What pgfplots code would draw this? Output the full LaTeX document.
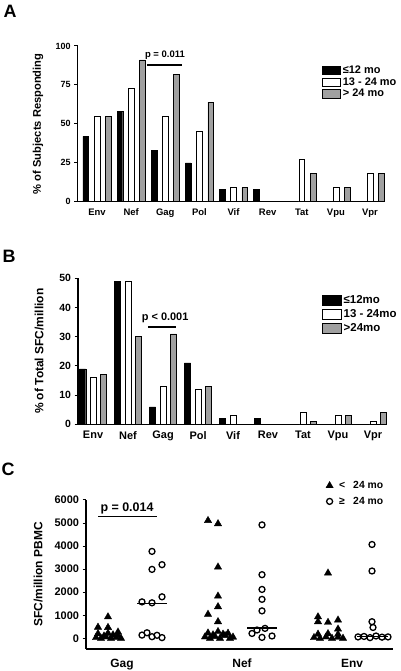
\documentclass[border=0pt]{standalone}
\usepackage{fontspec}
\setmainfont{Liberation Sans}
\usepackage{pgfplots}
\pgfplotsset{compat=1.18}
\definecolor{bargray}{RGB}{160,160,160}
\pgfplotsset{
  panel/.style={
    scale only axis, clip=false,
    axis x line*=bottom, axis y line*=left,
    axis line style={line width=1.2bp},
    xtick style={draw=none},
    ytick style={line width=1bp, black},
    tick align=outside, major tick length=3.5bp,
    /pgf/number format/assume math mode=true,
    /pgf/number format/1000 sep={},
    enlargelimits=false,
  },
  bboxA/.style={legend image code/.code={\draw[##1, line width=0.9bp] (0bp,-4.2bp) rectangle (17.5bp,4.2bp);}},
  bboxB/.style={legend image code/.code={\draw[##1, line width=0.9bp] (0bp,-5bp) rectangle (18.5bp,5bp);}},
  mlegend/.style={legend image code/.code={\draw[mark repeat=2,mark phase=2,##1] plot coordinates {(0bp,0bp) (6bp,0bp) (12bp,0bp)};}},
}
\newcommand{\fs}[1]{\fontsize{#1}{#1}\selectfont\bfseries}
\begin{document}
\begin{tikzpicture}[x=1bp,y=1bp]
\useasboundingbox (0,0) rectangle (400,671);
% panel letters
\node[font=\fs{18}] at (10,660) {A};
\node[font=\fs{18}] at (9,415) {B};
\node[font=\fs{18}] at (8,202) {C};
%%%%%%%%%%%%%%%% A
\begin{axis}[panel, at={(77.7bp,469.3bp)}, anchor=south west,
  width=305.3bp, height=155.7bp,
  xmin=-0.566, xmax=8.38, ymin=0, ymax=100,
  ytick={0,25,50,75,100},
  xtick={0,...,8}, xticklabels={Env,Nef,Gag,Pol,Vif,Rev,Tat,Vpu,Vpr},
  xticklabel style={font=\fs{9.5}},
  yticklabel style={font=\fs{9}},
  ylabel={\% of Subjects Responding},
  ylabel style={font=\fs{11.2}, at={(axis description cs:-0.13,0.5)}, anchor=center},
  ybar, bar width=0.167,
  legend style={draw=none, fill=none, at={(axis description cs:0.801,0.885)}, anchor=north west,
    font=\fs{11}, row sep=-1.5bp, inner sep=0pt, cells={anchor=west}},
]
\addplot[fill=black, draw=black, bar shift=-0.33, bboxA] coordinates {(0,42) (1,58) (2,33) (3,25) (4,8) (5,8)};
\addplot[fill=white, draw=black, bar shift=0, bboxA] coordinates {(0,55) (1,73) (2,55) (3,45) (4,9) (6,27) (7,9) (8,18)};
\addplot[fill=bargray, draw=black, bar shift=0.33, bboxA] coordinates {(0,55) (1,91) (2,82) (3,64) (4,9) (6,18) (7,9) (8,18)};
\legend{≤12 mo, 13 - 24 mo, > 24 mo}
\addplot[black, line width=1.2bp, sharp plot, forget plot, bar shift=0] coordinates {(1.47,87.8) (2.49,87.8)};
\node[font=\fs{9.5}] at (axis cs:1.99,94.2) {p = 0.011};
\end{axis}
%%%%%%%%%%%%%%%% B
\begin{axis}[panel, at={(78bp,246.7bp)}, anchor=south west,
  width=309bp, height=146bp,
  xmin=-0.43, xmax=8.4, ymin=0, ymax=50,
  ytick={0,10,20,30,40,50},
  xtick={0,...,8}, xticklabels={Env,Nef,Gag,Pol,Vif,Rev,Tat,Vpu,Vpr},
  xticklabel style={font=\fs{11}},
  yticklabel style={font=\fs{10.5}},
  ylabel={\% of Total SFC/million},
  ylabel style={font=\fs{12}, at={(axis description cs:-0.126,0.5)}, anchor=center},
  ybar, bar width=0.18,
  legend style={draw=none, fill=none, at={(axis description cs:0.79,0.895)}, anchor=north west,
    font=\fs{11.5}, row sep=0.5bp, inner sep=0pt, cells={anchor=west, inner xsep=1.5bp}},
]
\addplot[fill=black, draw=black, bar shift=-0.3, bboxB] coordinates {(0,19) (1,49) (2,6) (3,21) (4,2) (5,2)};
\addplot[fill=white, draw=black, bar shift=0, bboxB] coordinates {(0,16) (1,49) (2,13) (3,12) (4,3) (6,4) (7,3) (8,1)};
\addplot[fill=bargray, draw=black, bar shift=0.3, bboxB] coordinates {(0,17) (1,30) (2,31) (3,13) (6,1) (7,3) (8,4)};
\legend{≤12mo, 13 - 24mo, >24mo}
\addplot[black, line width=1.2bp, sharp plot, forget plot, bar shift=0] coordinates {(1.57,33.3) (2.37,33.3)};
\node[font=\fs{11}] at (axis cs:2.06,36.6) {p < 0.001};
\end{axis}
%%%%%%%%%%%%%%%% C
\begin{axis}[panel, at={(86bp,22bp)}, anchor=south west,
  width=307bp, height=149bp,
  xmin=86, xmax=393, ymin=-464, ymax=6000,
  ytick={0,1000,...,6000},
  xtick={122,242,352}, xticklabels={Gag,Nef,Env},
  xticklabel style={font=\fs{12}, yshift=-3bp},
  yticklabel style={font=\fs{11}},
  ylabel={SFC/million PBMC},
  ylabel style={font=\fs{12}, at={(axis description cs:-0.156,0.5)}, anchor=center},
  legend style={draw=none, fill=none, at={(axis description cs:0.781,1.14)}, anchor=north west,
    font=\fs{10.4}, row sep=3bp, inner sep=0pt, cells={anchor=west}},
]
\addplot[only marks, mark=triangle*, mark size=4.2bp, black, mlegend] coordinates {
(98,480) (108,930) (108,470) (118,270) (98,200) (108,220) (118,120) (96,30) (101,0) (106,60) (111,0) (116,30) (121,0) (104,100) (113,150)
(208,5110) (218,4970) (218,3090) (218,1830) (218,1370) (208,1040) (218,720) (208,230) (218,290) (228,220) (205,60) (210,0) (215,80) (220,0) (225,120) (230,0) (233,50) (213,150) (223,180)
(328,2830) (318,930) (318,720) (328,690) (338,790) (338,400) (318,180) (328,200) (338,170) (314,30) (320,0) (326,60) (332,0) (338,40) (343,0)
};
\addplot[only marks, mark=o, mark size=3bp, line width=1.3bp, black, mlegend] coordinates {
(152,3770) (152,2990) (162,3195) (142,1580) (152,1540) (162,1800) (142,140) (147,240) (152,70) (157,130) (162,30)
(262,4920) (262,2760) (262,2120) (262,1690) (262,1190) (252,210) (257,360) (265,430) (262,40) (272,100)
(372,4070) (372,2920) (372,720) (373,470) (358,60) (364,80) (370,30) (376,100) (382,50) (388,60)
};
\legend{\hspace{4bp}\makebox[14bp][l]{<}24 mo, \hspace{4bp}\makebox[14bp][l]{≥}24 mo}
\addplot[black, line width=1.3bp, forget plot] coordinates {(137,1510) (167,1510)};
\addplot[black, line width=1.3bp, forget plot] coordinates {(247,450) (277,450)};
\addplot[black, line width=1.3bp, forget plot] coordinates {(357,70) (388,70)};
\addplot[black, line width=1.3bp, forget plot] coordinates {(98,5273) (157,5273)};
\node[font=\fs{12.5}] at (axis cs:127,5650) {p = 0.014};
\end{axis}
\end{tikzpicture}
\end{document}
